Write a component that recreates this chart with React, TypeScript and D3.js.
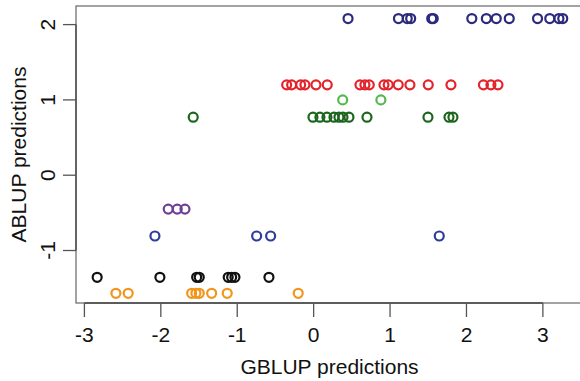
import React from "react";
import { scaleLinear } from "d3";

const W = 580;
const H = 381;

// tick labels
const xTicks = [-3, -2, -1, 0, 1, 2, 3];
const yTicks = [-1, 0, 1, 2];

// each group shares one ABLUP value, GBLUP values
const navyY = 2.08;
const navyX = [0.45, 1.11, 1.225, 1.27, 1.545, 1.565, 2.07, 2.26, 2.39, 2.56, 2.93, 3.09, 3.21, 3.26];

const redY = 1.2;
const redX = [-0.353, -0.288, -0.17, -0.114, 0.03, 0.178, 0.606, 0.671, 0.728, 0.92, 0.976, 1.107, 1.26, 1.5, 1.797, 2.222, 2.32, 2.412];

const limeY = 1.0;
const limeX = [0.38, 0.88];

const greenY = 0.77;
const greenX = [-1.576, -0.009, 0.082, 0.174, 0.266, 0.331, 0.384, 0.462, 0.698, 1.496, 1.771, 1.823];

const purpleY = -0.45;
const purpleX = [-1.903, -1.785, -1.684];

const blueY = -0.807;
const blueX = [-2.077, -0.746, -0.563, 1.644];

const blackY = -1.356;
const blackX = [-2.833, -2.012, -1.531, -1.497, -1.118, -1.073, -1.03, -0.585];

const orangeY = -1.568;
const orangeX = [-2.588, -2.427, -1.597, -1.541, -1.497, -1.335, -1.131, -0.202];

const groups = [
    { y: navyY, xs: navyX, color: "#2b2a7c" },
    { y: redY, xs: redX, color: "#e5232b" },
    { y: limeY, xs: limeX, color: "#55b84f" },
    { y: greenY, xs: greenX, color: "#1c651c" },
    { y: purpleY, xs: purpleX, color: "#6f3f98" },
    { y: blueY, xs: blueX, color: "#2e3d9c" },
    { y: blackY, xs: blackX, color: "#111111" },
    { y: orangeY, xs: orangeX, color: "#f2951c" },
];

const App = () => {
    const left = 76, right = 583, top = 6, bottom = 303;

    // scales
    const xScale = scaleLinear().domain([-3.11, 3.525]).range([left, right]);
    const yScale = scaleLinear().domain([-1.697, 2.247]).range([bottom, top]);

    const font = "'Liberation Sans', Arial, Helvetica, sans-serif";

    const points = groups.map((g, gi) =>
        g.xs.map((x, i) => (
            <circle
                key={gi + "-" + i}
                cx={xScale(x)}
                cy={yScale(g.y)}
                r={4.5}
                fill="none"
                stroke={g.color}
                strokeWidth={2.2}
            />
        ))
    );

    const xAxis = (
        <g>
            <line x1={xScale(xTicks[0])} x2={xScale(xTicks[xTicks.length - 1])}
                y1={bottom} y2={bottom} stroke="#444" strokeWidth={1.3} />
            {xTicks.map((t) => (
                <g key={t}>
                    <line x1={xScale(t)} x2={xScale(t)} y1={bottom} y2={bottom + 14}
                        stroke="#555" strokeWidth={1.3} />
                    <text x={xScale(t)} y={342} textAnchor="middle" fontSize={21}
                        fontFamily={font} fill="#111">{t}</text>
                </g>
            ))}
        </g>
    );

    const yAxis = (
        <g>
            <line x1={left} x2={left} y1={yScale(yTicks[0])} y2={yScale(yTicks[yTicks.length - 1])}
                stroke="#444" strokeWidth={1.3} />
            {yTicks.map((t) => (
                <g key={t}>
                    <line x1={left - 13} x2={left} y1={yScale(t)} y2={yScale(t)}
                        stroke="#555" strokeWidth={1.3} />
                    <text transform={`translate(55,${yScale(t)}) rotate(-90)`} textAnchor="middle"
                        fontSize={21} fontFamily={font} fill="#111">{t}</text>
                </g>
            ))}
        </g>
    );

    return (
        <svg width={W} height={H} viewBox={`0 0 ${W} ${H}`}
            style={{ position: "absolute", left: 0, top: 0, background: "#fff" }}>
            <rect x={left} y={top} width={right - left} height={bottom - top}
                fill="none" stroke="#666" strokeWidth={1.2} />
            {points}
            {xAxis}
            {yAxis}
            <text x={(left + right) / 2} y={374} textAnchor="middle" fontSize={21}
                fontFamily={font} fill="#111">GBLUP predictions</text>
            <text transform={`translate(26,${(top + bottom) / 2}) rotate(-90)`} textAnchor="middle"
                fontSize={21} fontFamily={font} fill="#111">ABLUP predictions</text>
        </svg>
    );
};

export default App;
